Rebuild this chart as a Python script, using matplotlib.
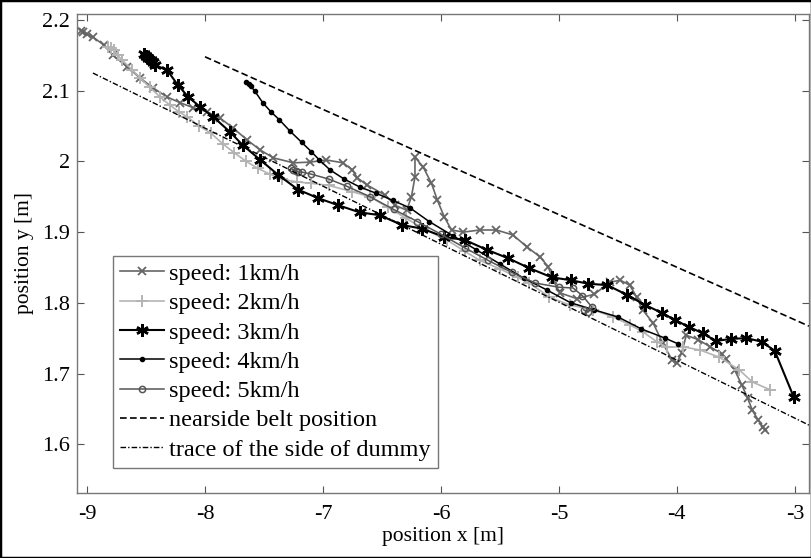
import matplotlib
matplotlib.use("Agg")
from matplotlib import pyplot as plt
from matplotlib.patches import Rectangle
from matplotlib.ticker import FuncFormatter

plt.rcParams['font.family'] = ['Liberation Serif', 'DejaVu Serif']
plt.rcParams['axes.unicode_minus'] = False

# speed 1 km/h
x1 = [-9.05, -9.03, -9.0, -8.95, -8.86, -8.78, -8.66, -8.55, -8.44, -8.32, -8.21, -8.10, -7.98,
      -7.87, -7.76, -7.64, -7.53, -7.42, -7.25, -7.11, -6.97, -6.83, -6.75, -6.71, -6.63, -6.47,
      -6.39, -6.29, -6.25, -6.22, -6.22, -6.15, -6.08, -6.03, -5.97, -5.91, -5.81, -5.67, -5.53,
      -5.39, -5.27, -5.16, -5.09, -5.05, -4.99, -4.85, -4.70, -4.57, -4.48, -4.40, -4.34, -4.29,
      -4.20, -4.12, -4.04, -4.00, -3.96, -3.92, -3.82, -3.72, -3.62, -3.58, -3.51, -3.45, -3.40,
      -3.36, -3.31, -3.27, -3.25]
y1 = [2.184, 2.183, 2.180, 2.176, 2.165, 2.150, 2.134, 2.118, 2.104, 2.091, 2.083, 2.076, 2.070,
      2.061, 2.047, 2.030, 2.016, 2.005, 1.998, 1.999, 2.002, 1.998, 1.988, 1.977, 1.967, 1.952,
      1.938, 1.931, 1.950, 1.978, 2.006, 1.992, 1.969, 1.945, 1.921, 1.903, 1.900, 1.903, 1.903,
      1.896, 1.879, 1.865, 1.851, 1.832, 1.814, 1.806, 1.812, 1.829, 1.832, 1.825, 1.808, 1.790,
      1.771, 1.743, 1.719, 1.715, 1.729, 1.754, 1.748, 1.738, 1.728, 1.720, 1.705, 1.684, 1.665,
      1.648, 1.634, 1.624, 1.620]

# speed 2 km/h
x2 = [-8.82, -8.80, -8.77, -8.74, -8.70, -8.62, -8.55, -8.47, -8.38, -8.30, -8.22, -8.15, -8.05,
      -7.95, -7.85, -7.75, -7.65, -7.55, -7.45, -7.35, -7.22, -7.10, -6.95, -6.75, -6.60, -6.45,
      -6.30, -6.15, -5.95, -5.80, -5.67, -5.50, -5.35, -5.25, -5.08, -4.91, -4.71, -4.54, -4.40,
      -4.29, -4.17, -4.08, -3.95, -3.80, -3.64, -3.47, -3.36, -3.21]
y2 = [2.162, 2.160, 2.157, 2.150, 2.143, 2.130, 2.118, 2.105, 2.091, 2.080, 2.070, 2.063, 2.050,
      2.040, 2.025, 2.012, 2.000, 1.990, 1.982, 1.975, 1.971, 1.969, 1.966, 1.957, 1.950, 1.935,
      1.920, 1.905, 1.889, 1.873, 1.860, 1.848, 1.836, 1.828, 1.808, 1.797, 1.790, 1.780, 1.769,
      1.759, 1.745, 1.737, 1.738, 1.733, 1.723, 1.705, 1.688, 1.677]

# speed 3 km/h
x3 = [-8.52, -8.50, -8.48, -8.46, -8.44, -8.42, -8.32, -8.23, -8.14, -8.04, -7.93, -7.79, -7.68,
      -7.53, -7.38, -7.21, -7.04, -6.87, -6.69, -6.52, -6.33, -6.16, -5.97, -5.80, -5.61, -5.43,
      -5.25, -5.06, -4.90, -4.75, -4.59, -4.42, -4.27, -4.13, -4.02, -3.90, -3.78, -3.67, -3.54,
      -3.41, -3.28, -3.17, -3.01]
y3 = [2.152, 2.149, 2.146, 2.143, 2.140, 2.136, 2.129, 2.108, 2.091, 2.077, 2.063, 2.042, 2.023,
      2.002, 1.981, 1.960, 1.948, 1.938, 1.928, 1.924, 1.910, 1.905, 1.893, 1.889, 1.875, 1.863,
      1.849, 1.836, 1.832, 1.827, 1.825, 1.811, 1.797, 1.786, 1.776, 1.766, 1.757, 1.746, 1.749,
      1.750, 1.745, 1.732, 1.667]

# speed 4 km/h
x4 = [-7.65, -7.63, -7.61, -7.58, -7.51, -7.44, -7.37, -7.28, -7.18, -7.10, -7.03, -6.94, -6.82,
      -6.69, -6.55, -6.41, -6.26, -6.10, -5.90, -5.70, -5.50, -5.30, -5.10, -4.90, -4.70, -4.50,
      -4.30, -4.10, -3.99]
y4 = [2.112, 2.110, 2.106, 2.100, 2.083, 2.070, 2.059, 2.043, 2.027, 2.014, 2.002, 1.988, 1.975,
      1.964, 1.955, 1.945, 1.934, 1.915, 1.895, 1.875, 1.855, 1.835, 1.818, 1.800, 1.790, 1.780,
      1.763, 1.750, 1.742]

# speed 5 km/h
x5 = [-7.27, -7.25, -7.23, -7.21, -7.18, -7.10, -6.95, -6.80, -6.60, -6.40, -6.20, -6.00, -5.80,
      -5.60, -5.40, -5.20, -5.00, -4.88, -4.80, -4.72, -4.75, -4.79]
y5 = [1.990, 1.988, 1.987, 1.985, 1.985, 1.982, 1.975, 1.965, 1.950, 1.932, 1.915, 1.897, 1.878,
      1.860, 1.843, 1.828, 1.822, 1.821, 1.810, 1.794, 1.787, 1.790]

# reference lines
belt_x = [-8.0, -2.88]
belt_y = [2.148, 1.767]
trace_x = [-8.95, -2.88]
trace_y = [2.125, 1.627]

fig = plt.figure(figsize=(8.12, 5.58), dpi=100)
ax = fig.add_axes([0.0948, 0.1165, 0.9015, 0.8584])

ax.plot(x1, y1, color='#666666', lw=1.2, marker='x', ms=6, mew=1.3, label='speed: 1km/h')
ax.plot(x2, y2, color='#b4b4b4', lw=1.2, marker='+', ms=9, mew=1.4, label='speed: 2km/h')
ax.plot(x3, y3, color='black', lw=1.5, marker=(6, 2, 0), ms=9, mew=1.8, label='speed: 3km/h')
ax.plot(x4, y4, color='black', lw=1.1, marker='o', ms=3, label='speed: 4km/h')
ax.plot(x5, y5, color='#555555', lw=1.1, marker='o', ms=4.5, mfc='none', mew=1.1,
        label='speed: 5km/h')
ax.plot(belt_x, belt_y, color='black', lw=1.2, dashes=(4, 2), label='nearside belt position')
ax.plot(trace_x, trace_y, color='black', lw=1.0, dashes=(4, 1.5, 1, 1.5),
        label='trace of the side of dummy')

ax.set_xlim(-9.085, -2.88)
ax.set_ylim(1.531, 2.2085)
ax.set_xticks([-9, -8, -7, -6, -5, -4, -3])
ax.set_yticks([1.6, 1.7, 1.8, 1.9, 2.0, 2.1, 2.2])
ax.xaxis.set_major_formatter(FuncFormatter(lambda v, p: '%g' % v))
ax.yaxis.set_major_formatter(FuncFormatter(lambda v, p: '%g' % round(v, 2)))
ax.tick_params(direction='in', top=True, right=True, length=5, width=0.8,
               color='#555555', labelsize=16, pad=5)
ax.tick_params(axis='x', pad=9)
for s in ax.spines.values():
    s.set_color('#777777')
    s.set_linewidth(1.0)

ax.set_xlabel('position x [m]', fontsize=15.5, labelpad=2)
ax.set_ylabel('position y [m]', fontsize=15.5, labelpad=6)

leg = ax.legend(loc='lower left', bbox_to_anchor=(0.049, 0.052), borderaxespad=0,
                fontsize=17.5, fancybox=False, framealpha=1, edgecolor='#777777',
                handlelength=1.8, handletextpad=0.2, labelspacing=0.3, borderpad=0.3)
leg.get_frame().set_linewidth(1.0)

fig.patches.append(Rectangle((0, 0), 1, 1, transform=fig.transFigure, fill=False,
                             edgecolor='black', lw=2.5))

fig.savefig('out.png', dpi=100)
